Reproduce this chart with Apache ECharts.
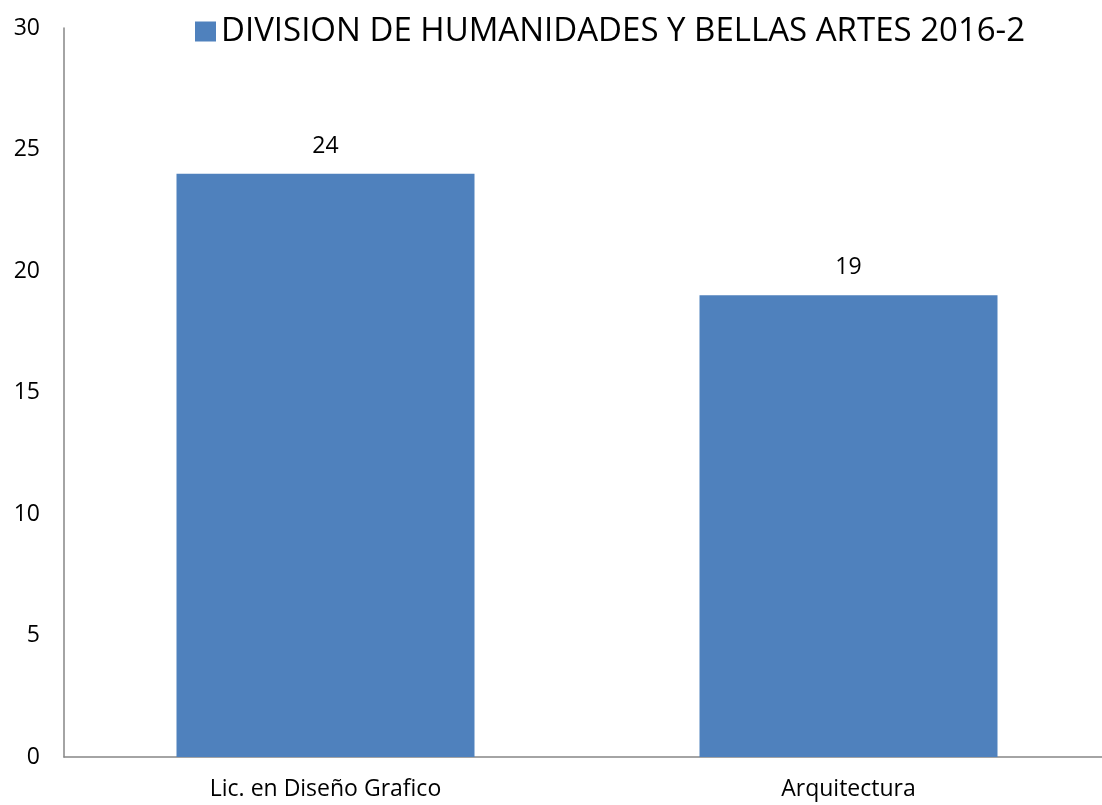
<!DOCTYPE html>
<html><head><meta charset="utf-8">
<script src="https://cdn.jsdelivr.net/npm/echarts@6/dist/echarts.min.js"></script>
<style>html,body{margin:0;padding:0;background:#fff;overflow:hidden}#c{width:1110px;height:805px}</style>
</head><body><div id="c"></div>
<script>
const categories = ["Lic. en Diseño Grafico", "Arquitectura"];
const values = [24, 19];
const seriesName = "DIVISION DE HUMANIDADES Y BELLAS ARTES 2016-2";
const yTicks = {min: 0, max: 30, interval: 5};

const chart = echarts.init(document.getElementById('c'));
chart.setOption({
  animation: false,
  textStyle: {fontFamily: "Open Sans"},
  legend: {
    data: [{name: seriesName, icon: 'rect'}], top: 10, left: 190, itemWidth: 21, itemHeight: 20, itemGap: 8,
    textStyle: {fontSize: 33, color: '#000', fontFamily: 'Open Sans'}
  },
  grid: {left: 64, right: 0, top: 28, bottom: 48},
  xAxis: {
    type: 'category', data: categories,
    axisLine: {lineStyle: {color: '#868686', width: 1.5}},
    axisTick: {show: false},
    axisLabel: {fontSize: 23, color: '#000', margin: 21}
  },
  yAxis: {
    type: 'value', min: yTicks.min, max: yTicks.max, interval: yTicks.interval,
    axisLine: {show: true, lineStyle: {color: '#868686', width: 1.5}},
    axisTick: {show: false},
    splitLine: {show: false},
    axisLabel: {fontSize: 23, color: '#000', margin: 24}
  },
  series: [{
    name: seriesName, type: 'bar', data: values, barWidth: 298,
    itemStyle: {color: '#4F81BD'},
    label: {show: true, position: 'top', distance: 16, fontSize: 23, color: '#000'}
  }]
});
</script></body></html>
